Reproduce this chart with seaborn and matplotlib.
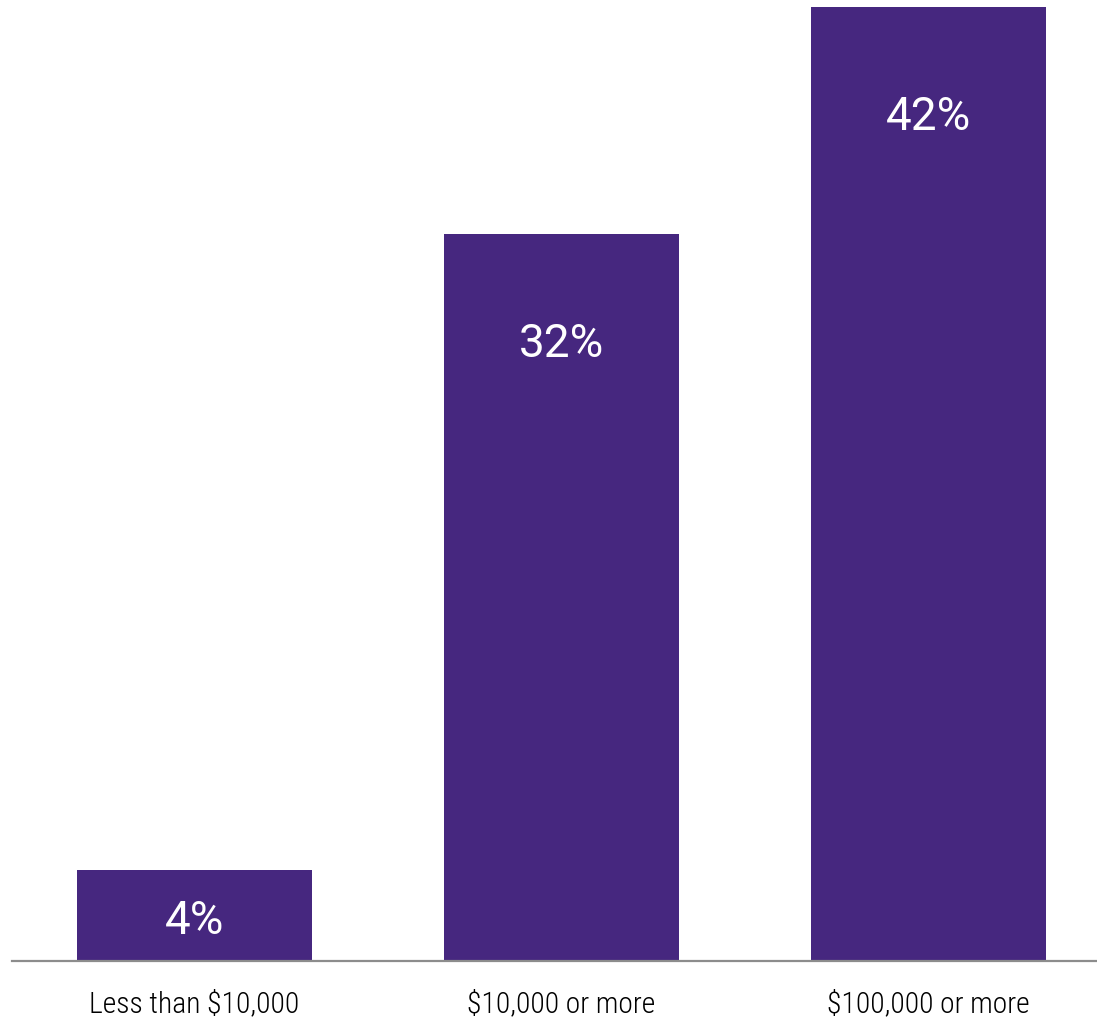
import numpy as np
import pandas as pd
import seaborn as sns
import matplotlib
matplotlib.use('Agg')
import matplotlib.pyplot as plt

categories = ['Less than $10,000', '$10,000 or more', '$100,000 or more']
values = [4, 32, 42]
labels = ['4%', '32%', '42%']

bar_color = '#46277f'

sns.set_theme(style='white')

df = pd.DataFrame({'category': categories, 'value': values})

fig = plt.figure(figsize=(10.97, 10.24), dpi=100)
ax = fig.add_axes([12 / 1097, 63 / 1024, 1085 / 1097, 954 / 1024])

sns.barplot(ax=ax, data=df, x='category', y='value',
            color=bar_color, saturation=1, width=0.64, linewidth=0)

ax.set_xlim(-0.497, 2.459)
ax.set_ylim(0, 42)
ax.set_xlabel('')
ax.set_ylabel('')
ax.set_yticks([])

for s in ['top', 'right', 'left']:
    ax.spines[s].set_visible(False)
ax.spines['bottom'].set_color('#8c8c8c')
ax.spines['bottom'].set_linewidth(1.6)

ax.tick_params(axis='x', length=0, pad=21)
for t in ax.get_xticklabels():
    t.set_family(['Roboto Condensed', 'DejaVu Sans'])
    t.set_fontweight('light')
    t.set_fontsize(21.3)
    t.set_color('#000000')

# value labels
lab_font = dict(color='white', fontsize=33, family=['Roboto', 'DejaVu Sans'],
                ha='center', va='center')
for i, (v, lab) in enumerate(zip(values, labels)):
    if v < 10:
        ax.annotate(lab, (i, v / 2), xytext=(0, -5 * 72 / 100),
                    textcoords='offset points', **lab_font)
    else:
        ax.annotate(lab, (i, v), xytext=(0, -110 * 72 / 100),
                    textcoords='offset points', **lab_font)

fig.savefig('out.png', dpi=100)
